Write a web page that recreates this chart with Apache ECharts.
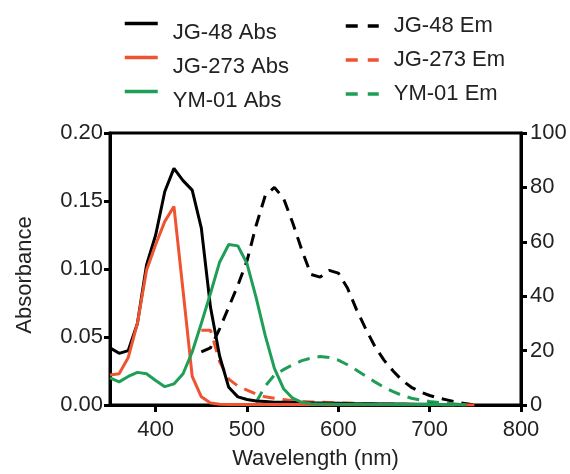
<!DOCTYPE html>
<html>
<head>
<meta charset="utf-8">
<script src="https://cdn.jsdelivr.net/npm/echarts@6/dist/echarts.min.js"></script>
<style>html,body{margin:0;padding:0;background:#fff}#c{width:570px;height:474px}</style>
</head>
<body>
<div id="c"></div>
<script>
// Absorbance spectra (left axis), wavelength nm
var absWavelengths = [350,360,370,380,390,400,410,420,430,440,450,460,470,480,490,500,510,520,530,540,550,560,570,580,590,600,610,620,630,640,650,660,670,680,690,700,710,720,730,740];
var jg48Abs  = [0.042,0.038,0.040,0.060,0.103,0.125,0.157,0.174,0.165,0.158,0.130,0.072,0.036,0.013,0.006,0.004,0.003,0.0025,0.002,0.002,0.0018,0.0016,0.0015,0.0014,0.0013,0.0012,0.0011,0.001,0.001,0.0009,0.0008,0.0008,0.0007,0.0006,0.0005,0.0005,0.0004,0.0003,0.0003,0.0002];
var jg273Abs = [0.022,0.023,0.035,0.060,0.099,0.118,0.135,0.146,0.084,0.021,0.006,0.0015,0.0005,0.0003,0.0003,0.0003,0.0003,0.0003,0.0003,0.0003,0.0003,0.0003,0.0003,0.0003,0.0002,0.0002,0.0002,0.0002,0.0002,0.0002,0.0002,0.0002,0.0001,0.0001,0.0001,0.0001,0.0001,0.0001,0.0001,0.0001];
var ym01Abs  = [0.020,0.017,0.021,0.024,0.023,0.018,0.0135,0.0155,0.023,0.039,0.060,0.082,0.105,0.118,0.117,0.104,0.079,0.051,0.027,0.012,0.005,0.002,0.001,0.0008,0.0007,0.0006,0.0006,0.0005,0.0005,0.0005,0.0004,0.0004,0.0004,0.0003,0.0003,0.0003,0.0003,0.0002,0.0002,0.0002];
// Emission spectra (right axis)
var emWavelengths = [450,460,470,480,490,500,510,520,530,540,550,560,570,580,590,600,610,620,630,640,650,660,670,680,690,700,710,720,730,740,750];
var jg48Em  = [19.5,21,28,36,44,53,66,77,80,76,67,57,48,47,49.5,48.5,43,35,28,21.5,16.5,12.5,9,6.5,4.8,3.5,2.5,1.8,1,0.5,0];
var jg273Em = [27.5,27.5,16,9.5,7,5.5,4,3,2.5,2,1.6,1.3,1.1,1,0.9,0.8,0.7,0.6,0.5,0.5,0.4,0.4,0.3,0.3,0.2,0.2,0.1,0.1,0,0,0];
var ymEmWavelengths = [510,520,530,540,550,560,570,580,590,600,610,620,630,640,650,660,670,680,690,700,710,720,730,740];
var ym01Em  = [1,7,11,13,14.8,16.3,17.2,17.8,17.5,16.5,14.8,12.8,10.6,8.5,6.5,4.9,3.5,2.5,1.8,1.3,0.9,0.6,0.3,0];
var xTicks = [400,500,600,700,800];

var BLACK = '#000000', RED = '#EF5330', GREEN = '#1E9E56';
function pairs(xs, ys){ return xs.map(function(x,i){ return [x, ys[i]]; }); }
var FONT = '"Liberation Sans", Arial, sans-serif';
var TXT = '#222';

function line(name, xs, ys, color, dashed, yIdx){
  return {
    name: name, type: 'line', yAxisIndex: yIdx, data: pairs(xs, ys),
    symbol: 'none', smooth: false, silent: true, animation: false,
    lineStyle: { color: color, width: 3, type: dashed ? [12, 8] : 'solid' },
    itemStyle: { color: color }
  };
}

var chart = echarts.init(document.getElementById('c'), null, {renderer: 'canvas'});
chart.setOption({
  animation: false,
  backgroundColor: '#fff',
  textStyle: { fontFamily: FONT },
  grid: { left: 110, right: 49, top: 133, bottom: 69, show: true, borderColor: '#000', borderWidth: 3,
          backgroundColor: 'transparent', containLabel: false, outerBoundsMode: 'none' },
  legend: [
    {
      data: ['JG-48 Abs','JG-273 Abs','YM-01 Abs'],
      orient: 'vertical', left: 123, top: 3, padding: 0,
      itemWidth: 33, itemHeight: 14, itemGap: -7,
      selectedMode: false,
      itemStyle: { opacity: 0 },
      lineStyle: { width: 3.5, type: 'solid' },
      formatter: function(n){ return ' \n' + n; },
      textStyle: { fontFamily: FONT, fontSize: 22, color: TXT, lineHeight: 19, padding: [0,0,0,10] }
    },
    {
      data: ['JG-48 Em','JG-273 Em','YM-01 Em'],
      orient: 'vertical', left: 344, top: 15, padding: 0,
      itemWidth: 33, itemHeight: 14, itemGap: 12,
      selectedMode: false,
      itemStyle: { opacity: 0 },
      lineStyle: { width: 3.5, type: [12, 10] },
      textStyle: { fontFamily: FONT, fontSize: 22, color: TXT, lineHeight: 22, padding: [0,0,0,10] }
    }
  ],
  xAxis: {
    type: 'value', min: 350, max: 800,
    name: 'Wavelength (nm)', nameLocation: 'middle', nameGap: 43,
    nameTextStyle: { fontFamily: FONT, fontSize: 22, color: TXT },
    axisLine: { show: true, onZero: false, lineStyle: { color: '#000', width: 3 } },
    axisTick: { show: true, length: 7, lineStyle: { color: '#000', width: 3 }, customValues: xTicks },
    axisLabel: { fontFamily: FONT, fontSize: 22, color: TXT, margin: 14, customValues: xTicks },
    splitLine: { show: false }
  },
  yAxis: [
    {
      type: 'value', min: 0, max: 0.2, interval: 0.05, position: 'left',
      name: 'Absorbance', nameLocation: 'middle', nameGap: 74, nameRotate: 90,
      nameTextStyle: { fontFamily: FONT, fontSize: 22, color: TXT, padding: [0,12,0,0] },
      axisLine: { show: true, lineStyle: { color: '#000', width: 3 } },
      axisTick: { show: true, length: 6, lineStyle: { color: '#000', width: 3 } },
      axisLabel: { fontFamily: FONT, fontSize: 22, color: TXT, margin: 7, formatter: function(v){ return v.toFixed(2); } },
      splitLine: { show: false }
    },
    {
      type: 'value', min: 0, max: 100, interval: 20, position: 'right',
      axisLine: { show: true, lineStyle: { color: '#000', width: 3 } },
      axisTick: { show: true, length: 6, lineStyle: { color: '#000', width: 3 } },
      axisLabel: { fontFamily: FONT, fontSize: 22, color: TXT, margin: 9 },
      splitLine: { show: false }
    }
  ],
  series: [
    line('JG-48 Em', emWavelengths, jg48Em, BLACK, true, 1),
    line('JG-273 Em', emWavelengths, jg273Em, RED, true, 1),
    line('YM-01 Em', ymEmWavelengths, ym01Em, GREEN, true, 1),
    line('JG-48 Abs', absWavelengths, jg48Abs, BLACK, false, 0),
    line('JG-273 Abs', absWavelengths, jg273Abs, RED, false, 0),
    line('YM-01 Abs', absWavelengths, ym01Abs, GREEN, false, 0)
  ]
});
</script>
</body>
</html>
